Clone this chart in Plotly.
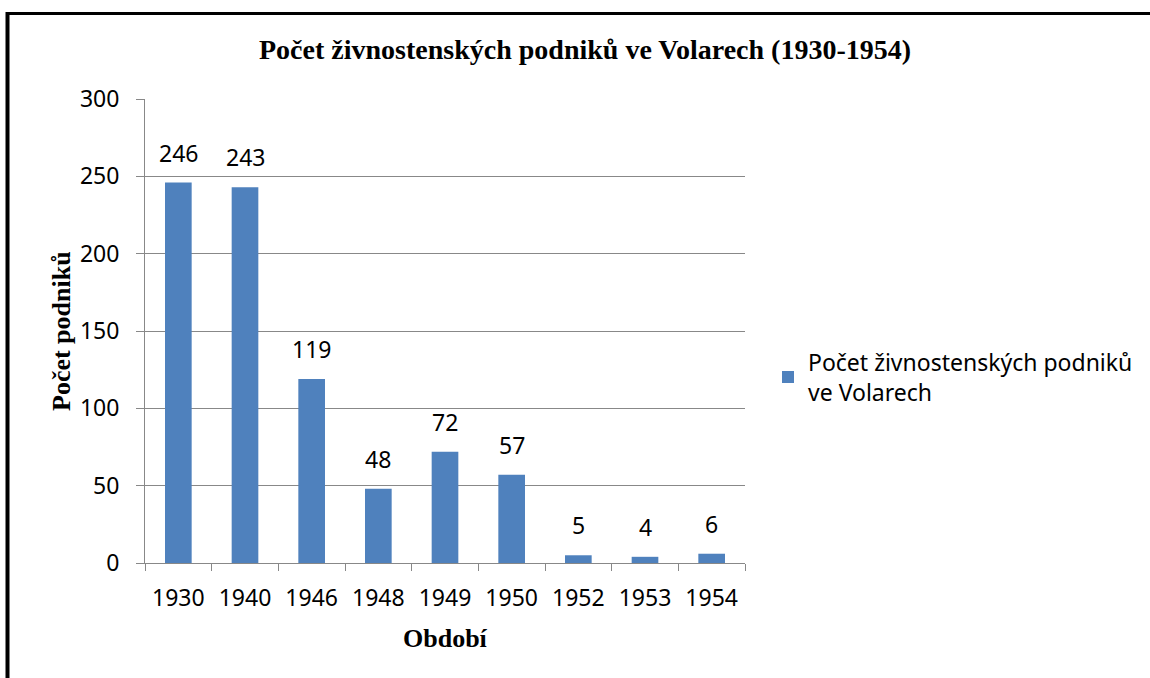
import plotly.graph_objects as go

years = ["1930", "1940", "1946", "1948", "1949", "1950", "1952", "1953", "1954"]
counts = [246, 243, 119, 48, 72, 57, 5, 4, 6]
series_name = "Počet živnostenských podniků<br>ve Volarech"
title_text = "Počet živnostenských podniků ve Volarech (1930-1954)"
y_title = "Počet podniků"
x_title = "Období"
y_ticks = [0, 50, 100, 150, 200, 250, 300]

W, H = 1150, 678
L, R, T, B = 145, 405, 99, 115
pw, ph = W - L - R, H - T - B

def px_x(x):
    return (x - L) / pw

def px_y(y):
    return (H - B - y) / ph

sans = "Noto Sans, Calibri, sans-serif"
serif = "Liberation Serif, Times New Roman, serif"
grid = "#888888"

fig = go.Figure()
fig.add_trace(go.Bar(
    x=years, y=counts, name=series_name,
    marker=dict(color="#4F81BD", line=dict(width=0)),
    showlegend=True,
))

for i, yv in enumerate(counts):
    fig.add_annotation(x=i, y=yv, xref="x", yref="y", text=str(yv),
                       showarrow=False, yanchor="bottom", yshift=12,
                       font=dict(family=sans, size=23, color="black"))

fig.add_annotation(x=0.5, y=px_y(50), xref="paper", yref="paper", text="<b>%s</b>" % title_text,
                   showarrow=False, xanchor="center", yanchor="middle", xshift=(585 - (L + pw / 2)),
                   font=dict(family=serif, size=28, color="black"))
fig.add_annotation(x=px_x(61), y=0.5, xref="paper", yref="paper", text="<b>%s</b>" % y_title,
                   showarrow=False, textangle=-90, xanchor="center", yanchor="middle",
                   font=dict(family=serif, size=26, color="black"))
fig.add_annotation(x=0.5, y=px_y(638), xref="paper", yref="paper", text="<b>%s</b>" % x_title,
                   showarrow=False, xanchor="center", yanchor="middle",
                   font=dict(family=serif, size=26, color="black"))

# outer border (extends past the right and bottom edges)
fig.add_shape(type="line", xref="paper", yref="paper",
              x0=px_x(7.5), x1=px_x(1200), y0=px_y(13.5), y1=px_y(13.5),
              line=dict(color="black", width=3))
fig.add_shape(type="line", xref="paper", yref="paper",
              x0=px_x(7.5), x1=px_x(7.5), y0=px_y(12), y1=px_y(720),
              line=dict(color="black", width=4))

fig.update_layout(
    width=W, height=H,
    margin=dict(l=L, r=R, t=T, b=B, autoexpand=False),
    paper_bgcolor="white", plot_bgcolor="white",
    bargap=0.6,
    showlegend=True,
    legend=dict(x=px_x(768), y=px_y(377), xanchor="left", yanchor="middle",
                font=dict(family=sans, size=23, color="black"),
                bgcolor="rgba(0,0,0,0)"),
    xaxis=dict(
        type="category", tickson="boundaries", ticks="outside", ticklen=7,
        tickcolor=grid, tickwidth=1, showline=True, linecolor=grid, linewidth=1,
        showgrid=False, ticklabelstandoff=14,
        tickfont=dict(family=sans, size=23, color="black"),
    ),
    yaxis=dict(
        range=[0, 300], tickvals=y_ticks, ticks="outside", ticklen=8,
        tickcolor=grid, tickwidth=1, showline=True, linecolor=grid, linewidth=1,
        showgrid=True, gridcolor=grid, gridwidth=1, zeroline=False,
        ticklabelstandoff=12,
        tickfont=dict(family=sans, size=23, color="black"),
    ),
)

fig.write_html("out.html", config={"displayModeBar": False},
               post_script="document.body.style.margin='0';document.body.style.overflow='hidden';")
